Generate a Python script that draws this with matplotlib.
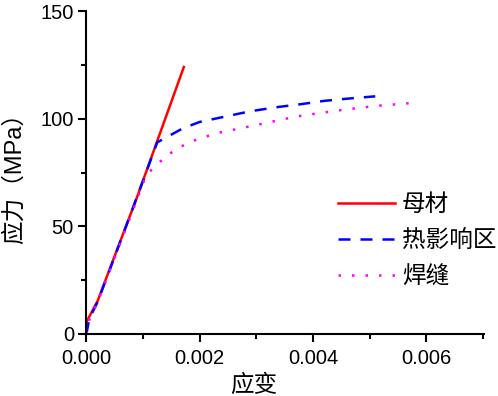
import matplotlib
matplotlib.use("Agg")
import matplotlib.pyplot as plt
from matplotlib.ticker import MultipleLocator

plt.rcParams['font.family'] = ['Liberation Sans', 'Noto Sans CJK SC', 'DejaVu Sans']

# 母材
x_mu = [0.0, 0.0002, 0.0009, 0.00172]
y_mu = [5.5, 15.5, 64.0, 124.0]

# 热影响区
x_re = [0.0, 0.00005, 0.0002, 0.0008, 0.00125, 0.0017, 0.0020, 0.0029, 0.0034,
        0.0038, 0.0042, 0.0046, 0.0051]
y_re = [0.0, 7.0, 15.0, 57.0, 89.0, 95.5, 98.5, 103.5, 105.5, 106.8, 108.3,
        109.3, 110.4]

# 焊缝
x_han = [0.0, 0.00005, 0.0002, 0.0008, 0.0010, 0.00106, 0.00142, 0.0018, 0.0023,
         0.0029, 0.0037, 0.0044, 0.0051, 0.0057]
y_han = [0.0, 6.5, 15.0, 56.0, 70.0, 74.0, 83.0, 89.0, 93.3, 96.5, 101.0,
         103.7, 105.9, 107.2]

labels = ['母材', '热影响区', '焊缝']

fig = plt.figure(figsize=(4.98, 3.96), dpi=100)
ax = fig.add_axes([0.1735, 0.1566, 0.9719 - 0.1735, 0.972 - 0.1566])

ax.plot(x_mu, y_mu, color='#ff0000', lw=1.8, ls='-', label=labels[0])
ax.plot(x_re, y_re, color='#0000ff', lw=1.8, ls=(0, (4.8, 4)), label=labels[1])
ax.plot(x_han, y_han, color='#ff00ff', lw=1.8, ls=(0, (1, 4.4)), label=labels[2])

ax.set_xlim(0, 0.00702)
ax.set_ylim(0, 150)
ax.xaxis.set_major_locator(MultipleLocator(0.002))
ax.xaxis.set_minor_locator(MultipleLocator(0.001))
ax.yaxis.set_major_locator(MultipleLocator(50))
ax.yaxis.set_minor_locator(MultipleLocator(25))
ax.xaxis.set_major_formatter(plt.FuncFormatter(lambda v, p: f"{v:.3f}"))

for s in ['top', 'right']:
    ax.spines[s].set_visible(False)
for s in ['left', 'bottom']:
    ax.spines[s].set_linewidth(1.5)

ax.tick_params(which='major', direction='out', length=6, width=1.5, labelsize=14.5, pad=3)
ax.tick_params(axis='x', which='major', pad=5)
ax.tick_params(which='minor', direction='out', length=3.5, width=1.5)

ax.set_xlabel('应变', fontsize=17)
ax.set_ylabel('应力（MPa）', fontsize=17)
ax.xaxis.set_label_coords(0.42, -0.125)
ax.yaxis.set_label_coords(-0.153, 0.5)

ax.legend(loc='upper left', bbox_to_anchor=(338 / 498, 1 - 194 / 396),
          bbox_transform=fig.transFigure, frameon=False, fontsize=17,
          borderpad=0, borderaxespad=0, handlelength=2.4, handletextpad=0.3,
          labelspacing=0.6)

fig.savefig('out.png', dpi=100)
